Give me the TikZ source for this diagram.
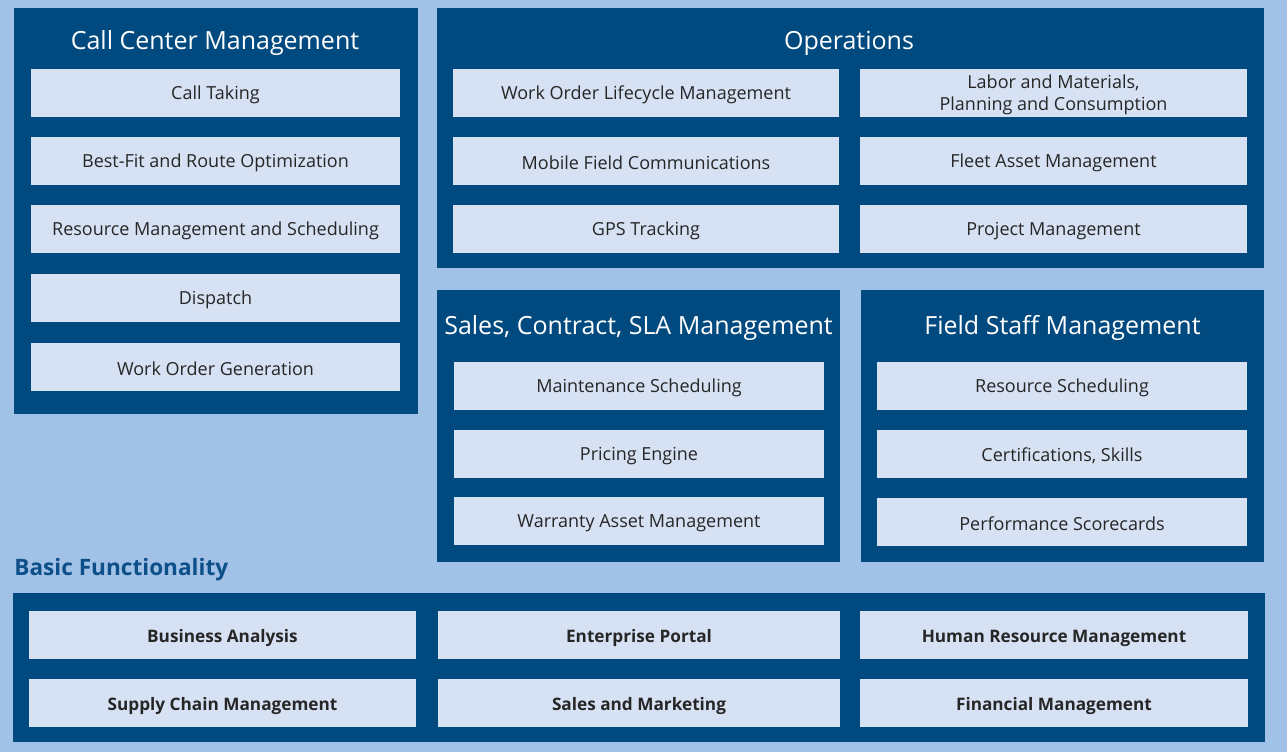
\documentclass[tikz,border=0pt]{standalone}
\usepackage{fontspec}
\setmainfont{Open Sans}
\definecolor{bgblue}{HTML}{A2C1E6}
\definecolor{panelblue}{HTML}{004A80}
\definecolor{itemblue}{HTML}{D6E1F3}
\definecolor{itemtext}{HTML}{262626}
\definecolor{labelblue}{HTML}{0D4F89}

\begin{document}
\begin{tikzpicture}[x=0.5pt, y=-0.5pt,
  panel/.style={fill=panelblue},
  item/.style={fill=itemblue},
  head/.style={text=white, font=\fontsize{12.5}{14}\selectfont, inner sep=0pt},
  itemlabel/.style={text=itemtext, font=\fontsize{9}{11}\selectfont, align=center, inner sep=0pt},
  baselabel/.style={text=itemtext, font=\fontsize{8.6}{11}\selectfont\bfseries, inner sep=0pt}]

\fill[bgblue] (0,0) rectangle (1287,752);
\useasboundingbox (0,0) rectangle (1287,752);

% call center
\fill[panel] (14,8) rectangle (418,414);
\node (cchead) at (215,43) [head] {Call Center Management};
\foreach \y/\name/\txt in {69/calltaking/Call Taking,
    137/bestfit/Best-Fit and Route Optimization,
    205/resmgmt/Resource Management and Scheduling,
    274/dispatch/Dispatch,
    343/wogen/Work Order Generation} {
  \fill[item] (31,\y) rectangle (400,\y+48);
  \node (\name) at (215.5,\y+26) [itemlabel] {\txt};
}

% operations
\fill[panel] (437,8) rectangle (1264,268);
\node (ophead) at (849,43) [head] {Operations};
\foreach \y/\name/\txt in {69/wolife/Work Order Lifecycle Management,
    137/mobile/Mobile Field Communications,
    205/gps/GPS Tracking} {
  \fill[item] (453,\y) rectangle (839,\y+48);
  \node (\name) at (646,\y+26) [itemlabel] {\txt};
}
\foreach \y/\name/\txt in {69/labor/{Labor and Materials,\\Planning and Consumption},
    137/fleet/Fleet Asset Management,
    205/project/Project Management} {
  \fill[item] (860,\y) rectangle (1247,\y+48);
  \node (\name) at (1053.5,\y+26) [itemlabel] {\txt};
}

% sales, contract
\fill[panel] (437,290) rectangle (840,562);
\node (salhead) at (638.5,328) [head] {Sales, Contract, SLA Management};
\foreach \y/\name/\txt in {362/maint/Maintenance Scheduling,
    430/pricing/Pricing Engine,
    497/warranty/Warranty Asset Management} {
  \fill[item] (454,\y) rectangle (824,\y+48);
  \node (\name) at (639,\y+26) [itemlabel] {\txt};
}

% field staff
\fill[panel] (861,290) rectangle (1264,562);
\node (fshead) at (1062.5,328) [head] {Field Staff Management};
\foreach \y/\name/\txt in {362/ressched/Resource Scheduling,
    430/certs/Certifications{,} Skills,
    498/perf/Performance Scorecards} {
  \fill[item] (877,\y) rectangle (1247,\y+48);
  \node (\name) at (1062,\y+26) [itemlabel] {\txt};
}

% basic functionality
\node (basic) at (14,570) [anchor=west, inner sep=0pt, text=labelblue, font=\fontsize{11.3}{14}\selectfont\bfseries] {Basic Functionality};
\fill[panel] (13,593) rectangle (1265,742);
\foreach \x/\xx/\y/\name/\txt in {29/416/611/busan/Business Analysis,
    438/840/611/portal/Enterprise Portal,
    860/1248/611/hrm/Human Resource Management,
    29/416/679/supply/Supply Chain Management,
    438/840/679/salesmkt/Sales and Marketing,
    860/1248/679/finance/Financial Management} {
  \fill[item] (\x,\y) rectangle (\xx,\y+48);
  \node (\name) at ({(\x+\xx)/2},\y+27) [baselabel] {\txt};
}

\end{tikzpicture}
\end{document}
